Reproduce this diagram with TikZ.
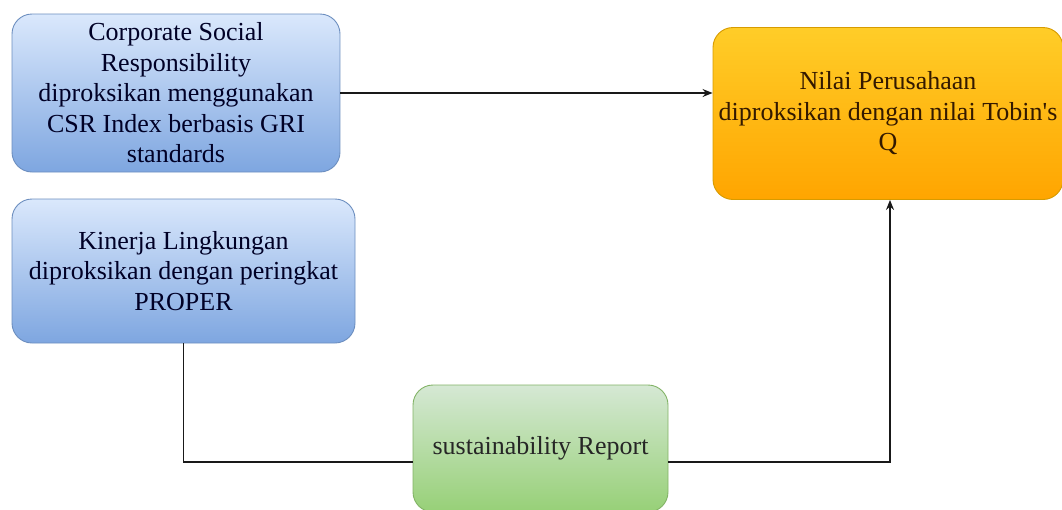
\documentclass[tikz,border=0pt]{standalone}
\usepackage{fontspec}
\newfontfamily\tnr{Liberation Serif}
\usetikzlibrary{arrows.meta,calc}
\definecolor{bluetop}{HTML}{DAE8FC}
\definecolor{bluebot}{HTML}{7EA6E0}
\definecolor{blueline}{HTML}{6C8EBF}
\definecolor{orgtop}{HTML}{FFCD28}
\definecolor{orgbot}{HTML}{FFA500}
\definecolor{orgline}{HTML}{D79B00}
\definecolor{grntop}{HTML}{D5E8D4}
\definecolor{grnbot}{HTML}{97D077}
\definecolor{grnline}{HTML}{82B366}
\tikzset{
  boxbase/.style={rectangle, rounded corners=20pt, line width=0.9pt, align=center,
    inner sep=0pt, font=\tnr\fontsize{26}{30.5}\selectfont},
  bluebox/.style={boxbase, draw=blueline, top color=bluetop, bottom color=bluebot, text=black!85!blue},
  orangebox/.style={boxbase, draw=orgline, top color=orgtop, bottom color=orgbot, text=black!80!orange},
  greenbox/.style={boxbase, draw=grnline, top color=grntop, bottom color=grnbot, text=black!85},
  conn/.style={line width=1.2pt, draw=black!90},
  arr/.style={conn, -{Stealth[length=10pt,width=8pt]}}
}
\begin{document}
\begin{tikzpicture}[x=1pt,y=1pt]
\useasboundingbox (0,0) rectangle (1062,-509);
\begin{scope}
\clip (0,0) rectangle (1062,-509);
\node[bluebox, minimum width=328pt, minimum height=158pt] (csr) at (176,-93)
  {Corporate Social\\Responsibility\\diproksikan menggunakan\\CSR Index berbasis GRI\\standards};
\node[bluebox, minimum width=343pt, minimum height=144pt] (kl) at (183.5,-271)
  {Kinerja Lingkungan\\diproksikan dengan peringkat\\PROPER};
\node[orangebox, minimum width=350pt, minimum height=172pt] (nilai) at (888,-113.5)
  {Nilai Perusahaan\\diproksikan dengan nilai Tobin\symbol{39}s\\Q};
\node[greenbox, minimum width=255pt, minimum height=127pt] (sr) at (540.5,-448.5)
  {sustainability Report};
\draw[arr] (csr.east) -- (csr.east -| nilai.west);
\draw[conn] (kl.south) |- ([yshift=-13.5pt]sr.west);
\draw[arr] ([yshift=-13.5pt]sr.east) -| ([xshift=2pt]nilai.south);
\end{scope}
\end{tikzpicture}
\end{document}
